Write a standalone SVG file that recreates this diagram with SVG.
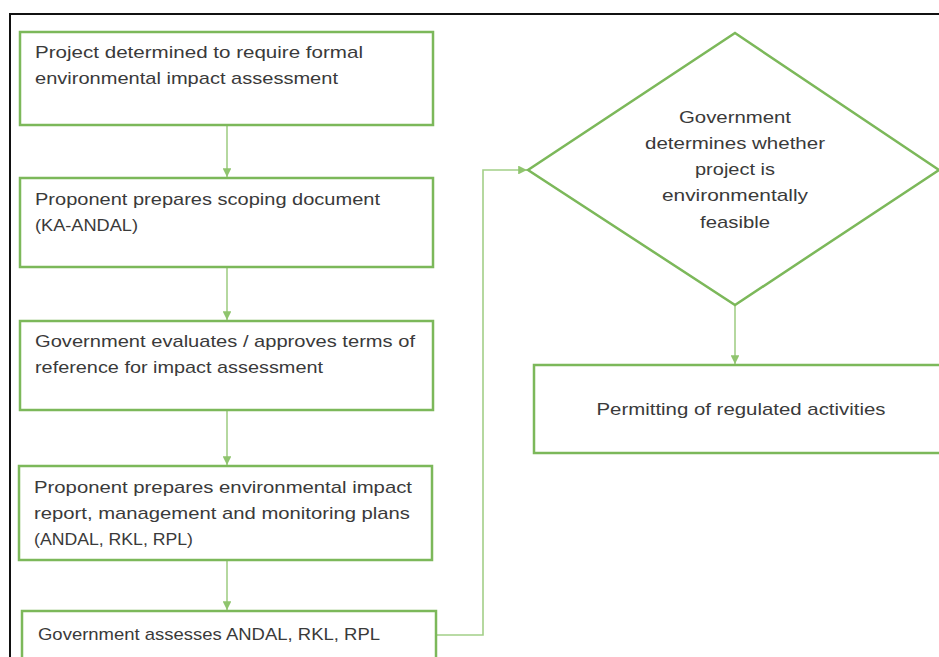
<svg xmlns="http://www.w3.org/2000/svg" width="939" height="657" viewBox="0 0 939 657">
  <style>
    .box { fill: #ffffff; stroke: #7cb85a; stroke-width: 2.5; }
    .link { fill: none; stroke: #a3cf88; stroke-width: 1.6; }
    .lbl { font-family: "Liberation Sans", Arial, sans-serif; font-size: 17px; fill: #3a3a3a; }
    .mid { text-anchor: middle; }
  </style>
  <defs>
    <marker id="tip" viewBox="0 0 10 10" refX="10" refY="5" markerWidth="5.5" markerHeight="5.5" orient="auto" markerUnits="strokeWidth">
      <path d="M0,0 L10,5 L0,10 Z" fill="#8fc46e"/>
    </marker>
  </defs>

  <rect x="0" y="0" width="939" height="657" fill="#ffffff"/>
  <!-- outer frame -->
  <rect x="10" y="14" width="960" height="700" fill="none" stroke="#111111" stroke-width="2"/>

  <g id="connectors">
    <line class="link" x1="227" y1="125" x2="227" y2="177" marker-end="url(#tip)"/>
    <line class="link" x1="227" y1="268" x2="227" y2="320" marker-end="url(#tip)"/>
    <line class="link" x1="227" y1="411" x2="227" y2="465" marker-end="url(#tip)"/>
    <line class="link" x1="227" y1="561" x2="227" y2="610" marker-end="url(#tip)"/>
    <polyline class="link" points="437,635 483,635 483,170 527,170" marker-end="url(#tip)"/>
    <line class="link" x1="735" y1="306" x2="735" y2="364" marker-end="url(#tip)"/>
  </g>

  <g id="n1">
    <rect class="box" x="20" y="32" width="413" height="93"/>
    <text class="lbl" x="35" y="58" textLength="328" lengthAdjust="spacingAndGlyphs">Project determined to require formal</text>
    <text class="lbl" x="35" y="84" textLength="303" lengthAdjust="spacingAndGlyphs">environmental impact assessment</text>
  </g>

  <g id="n2">
    <rect class="box" x="20" y="178" width="413" height="89"/>
    <text class="lbl" x="35" y="205" textLength="345" lengthAdjust="spacingAndGlyphs">Proponent prepares scoping document</text>
    <text class="lbl" x="35" y="231" textLength="103" lengthAdjust="spacingAndGlyphs">(KA-ANDAL)</text>
  </g>

  <g id="n3">
    <rect class="box" x="20" y="321" width="413" height="89"/>
    <text class="lbl" x="35" y="347" textLength="380" lengthAdjust="spacingAndGlyphs">Government evaluates / approves terms of</text>
    <text class="lbl" x="35" y="373" textLength="288" lengthAdjust="spacingAndGlyphs">reference for impact assessment</text>
  </g>

  <g id="n4">
    <rect class="box" x="19" y="466" width="413" height="94"/>
    <text class="lbl" x="34" y="493" textLength="378" lengthAdjust="spacingAndGlyphs">Proponent prepares environmental impact</text>
    <text class="lbl" x="34" y="519" textLength="376" lengthAdjust="spacingAndGlyphs">report, management and monitoring plans</text>
    <text class="lbl" x="34" y="545" textLength="159" lengthAdjust="spacingAndGlyphs">(ANDAL, RKL, RPL)</text>
  </g>

  <g id="n5">
    <rect class="box" x="22" y="611" width="414" height="80"/>
    <text class="lbl" x="38" y="640" textLength="342" lengthAdjust="spacingAndGlyphs">Government assesses ANDAL, RKL, RPL</text>
  </g>

  <g id="n6">
    <polygon class="box" points="735,33 939,170 735,305 528,170"/>
    <text class="lbl mid" x="735" y="123" textLength="112" lengthAdjust="spacingAndGlyphs">Government</text>
    <text class="lbl mid" x="735" y="149" textLength="180" lengthAdjust="spacingAndGlyphs">determines whether</text>
    <text class="lbl mid" x="735" y="175" textLength="80" lengthAdjust="spacingAndGlyphs">project is</text>
    <text class="lbl mid" x="735" y="201" textLength="146" lengthAdjust="spacingAndGlyphs">environmentally</text>
    <text class="lbl mid" x="735" y="228" textLength="70" lengthAdjust="spacingAndGlyphs">feasible</text>
  </g>

  <g id="n7">
    <rect class="box" x="534" y="365" width="430" height="88"/>
    <text class="lbl mid" x="741" y="415" textLength="289" lengthAdjust="spacingAndGlyphs">Permitting of regulated activities</text>
  </g>
</svg>
